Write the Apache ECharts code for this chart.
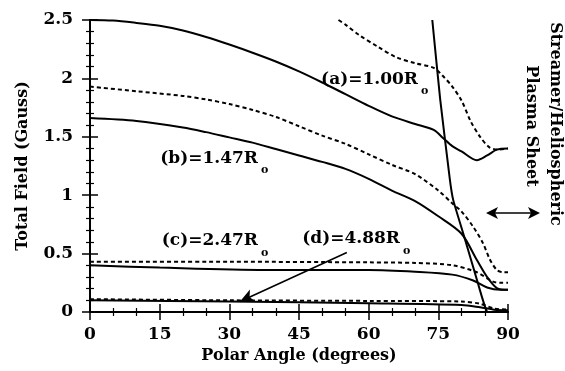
<!DOCTYPE html>
<html>
<head>
<meta charset="utf-8">
<script src="https://cdn.jsdelivr.net/npm/echarts@6/dist/echarts.min.js"></script>
<style>
  html, body { margin: 0; padding: 0; background: #fff; }
  #chart { width: 565px; height: 371px; }
</style>
</head>
<body>
<div id="chart"></div>
<script>
// polar angle (deg) / total field (Gauss) pairs
const aSolid = [[0,2.5],[5,2.495],[10,2.475],[15,2.45],[20,2.41],[25,2.355],[30,2.29],[35,2.22],[40,2.145],[45,2.06],[50,1.965],[55,1.865],[60,1.765],[65,1.675],[70,1.61],[74,1.56],[76,1.49],[78,1.42],[80,1.375],[83.3,1.30],[85.5,1.34],[87.6,1.39],[90,1.40]];
const aDashed = [[53.5,2.5],[55,2.46],[58,2.37],[62,2.27],[66,2.18],[70,2.13],[74,2.09],[76,2.02],[78,1.93],[80,1.81],[82,1.63],[84,1.50],[86,1.41],[88,1.39],[90,1.40]];
const bSolid = [[0,1.66],[10,1.635],[20,1.58],[25,1.54],[30,1.495],[35,1.45],[40,1.395],[45,1.34],[50,1.285],[55,1.225],[60,1.14],[65,1.04],[70,0.95],[75,0.82],[80,0.67],[83.3,0.445],[85.5,0.30],[87.6,0.205],[90,0.19]];
const bDashed = [[0,1.93],[10,1.89],[20,1.85],[25,1.82],[30,1.78],[35,1.73],[40,1.67],[45,1.59],[50,1.51],[55,1.44],[60,1.35],[65,1.26],[70,1.18],[75,1.04],[78,0.93],[80,0.86],[82.5,0.73],[84.6,0.59],[86.1,0.45],[87.6,0.36],[89,0.34],[90,0.34]];
const cSolid = [[0,0.40],[15,0.38],[37.7,0.36],[60,0.36],[70,0.345],[78,0.32],[82.5,0.27],[85.5,0.21],[88.3,0.19],[90,0.19]];
const cDashed = [[0,0.43],[30,0.43],[60,0.425],[70,0.42],[78,0.40],[83.3,0.34],[86.8,0.26],[88.5,0.25],[90,0.25]];
const dSolid = [[0,0.10],[30,0.09],[60,0.075],[80,0.06],[84,0.04],[87,0.02],[90,0.015]];
const dDashed = [[0,0.11],[30,0.10],[60,0.095],[80,0.09],[84,0.07],[87,0.03],[90,0.02]];
const sheetEdge = [[73.7,2.5],[75.4,1.82],[77.5,1.13],[78.2,0.96],[80.3,0.68],[82.5,0.385],[84.3,0.14],[85.1,0.04],[85.5,0]];

const xTicks = [0, 90, 15];   // min, max, step
const yTicks = [0, 2.5, 0.5];

const font = 'DejaVu Serif';
const black = '#000';

function xAx(pos, labels) {
  return {
    type: 'value', position: pos, min: xTicks[0], max: xTicks[1], interval: xTicks[2],
    axisLine: { lineStyle: { color: black, width: 2 } },
    axisTick: { inside: true, length: 8, lineStyle: { color: black, width: 1.5 } },
    minorTick: { show: true, splitNumber: 3, length: 4, lineStyle: { color: black, width: 1.2 } },
    splitLine: { show: false },
    axisLabel: { show: labels, margin: 14, color: black, fontFamily: font, fontWeight: 'bold', fontSize: 17 },
    name: labels ? 'Polar Angle (degrees)' : '',
    nameLocation: 'middle', nameGap: 36,
    nameTextStyle: { color: black, fontFamily: font, fontWeight: 'bold', fontSize: 16 }
  };
}
function yAx(pos, labels) {
  return {
    type: 'value', position: pos, min: yTicks[0], max: yTicks[1], interval: yTicks[2],
    axisLine: { show: true, lineStyle: { color: black, width: 2 } },
    axisTick: { show: true, inside: true, length: 8, lineStyle: { color: black, width: 1.5 } },
    minorTick: { show: true, splitNumber: 5, length: 4, lineStyle: { color: black, width: 1.2 } },
    splitLine: { show: false },
    axisLabel: { show: labels, margin: 17, color: black, fontFamily: font, fontWeight: 'bold', fontSize: 17 },
    name: labels ? 'Total Field (Gauss)' : '',
    nameLocation: 'middle', nameGap: 59,
    nameTextStyle: { color: black, fontFamily: font, fontWeight: 'bold', fontSize: 16 }
  };
}

function line(data, dashed, extra) {
  return Object.assign({
    type: 'line', data: data, showSymbol: false, smooth: 0.3, silent: true,
    lineStyle: { color: black, width: 2, type: dashed ? [4, 3] : 'solid' }
  }, extra || {});
}

const chart = echarts.init(document.getElementById('chart'));
const txt = (x, y, s, size, align, extra) => Object.assign({
  type: 'text', x: x, y: y,
  style: { text: s, fill: black, font: 'bold ' + size + 'px "' + font + '"', align: align || 'right', verticalAlign: 'middle' }
}, extra || {});

chart.setOption({
  animation: false,
  backgroundColor: '#fff',
  grid: { left: 90, right: 57, top: 20, bottom: 59 },
  xAxis: [xAx('bottom', true), xAx('top', false)],
  yAxis: [yAx('left', true), yAx('right', false)],
  series: [
    line(aSolid, false),
    line(aDashed, true),
    line(bSolid, false),
    line(bDashed, true),
    line(cSolid, false),
    line(cDashed, true),
    line(dSolid, false, {
      markLine: {
        silent: true, animation: false,
        symbol: ['none', 'arrow'], symbolSize: [10, 14],
        label: { show: false },
        lineStyle: { color: black, width: 1.6, type: 'solid' },
        data: [[{ coord: [55.3, 0.51] }, { coord: [32.3, 0.09] }]]
      }
    }),
    line(dDashed, true),
    line(sheetEdge, false, { smooth: 0.15 })
  ],
  graphic: [
    txt(418, 80, '(a)=1.00R', 17),
    txt(421, 91, 'o', 11, 'left'),
    txt(258, 159, '(b)=1.47R', 17),
    txt(261, 170, 'o', 11, 'left'),
    txt(258, 241, '(c)=2.47R', 17),
    txt(261, 253, 'o', 11, 'left'),
    txt(400, 239, '(d)=4.88R', 17),
    txt(403, 251, 'o', 11, 'left'),
    txt(555, 124, 'Streamer/Heliospheric', 16, 'center', { rotation: -Math.PI / 2 }),
    txt(531, 126, 'Plasma Sheet', 16, 'center', { rotation: -Math.PI / 2 }),
    { type: 'line', shape: { x1: 492, y1: 213, x2: 534, y2: 213 }, style: { stroke: black, lineWidth: 1.6 } },
    { type: 'polygon', shape: { points: [[486, 213], [498, 207], [495, 213], [498, 219]] }, style: { fill: black } },
    { type: 'polygon', shape: { points: [[540, 213], [528, 207], [531, 213], [528, 219]] }, style: { fill: black } }
  ]
});
</script>
</body>
</html>
